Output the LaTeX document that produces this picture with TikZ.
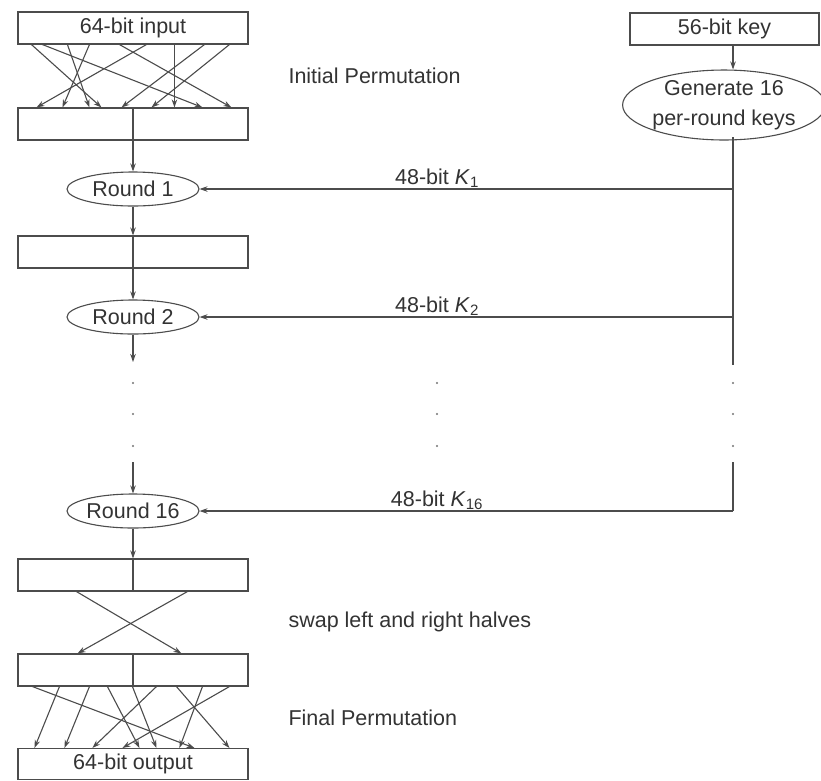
\documentclass[tikz,border=0pt]{standalone}
\usepackage{fontspec}
\setmainfont{Liberation Sans}
\usetikzlibrary{arrows.meta,shapes.geometric,calc}
\begin{document}
\begin{tikzpicture}[x=1pt,y=-1pt,
  ln/.style={draw=black!70, line width=1.1pt},
  arr/.style={ln, -{Stealth[length=8pt,width=5.5pt]}},
  lbl/.style={font=\fontsize{21.5}{30}\selectfont, text=black!80},
  bx/.style={ln, rectangle, minimum width=230pt, minimum height=32pt, inner sep=0pt, lbl},
  ell/.style={ln, ellipse, minimum width=132pt, minimum height=34pt, inner sep=0pt, lbl}
]
\fill[white] (0,0) rectangle (821,780);
\useasboundingbox (0,0) rectangle (821,780);

% left column boxes and rounds
\node[bx] (in) at (133,28) {64-bit input};
\node[bx] (ip) at (133,124) {};
\node[ell] (r1) at (133,189) {Round 1};
\node[bx] (b1) at (133,252) {};
\node[ell] (r2) at (133,317) {Round 2};
\node[ell] (r16) at (133,511) {Round 16};
\node[bx] (b16) at (133,575) {};
\node[bx] (sw) at (133,670) {};
\node[bx, minimum height=31pt] (out) at (133,764) {64-bit output};

% dividers
\foreach \n in {ip,b1,b16,sw} \draw[ln] (\n.north) -- (\n.south);

% key side
\node[bx, minimum width=189pt] (key) at (724.5,29) {56-bit key};
\node[ell, minimum width=192pt, minimum height=64pt, align=center] (gen) at (724,105) {Generate 16\\per-round keys};
\coordinate (kx) at (733,45);
\coordinate (g0) at (733,137);
\coordinate (j1) at (733,189);
\coordinate (j2) at (733,317);
\coordinate (jend) at (733,365);
\coordinate (jst) at (733,462);
\coordinate (j16) at (733,511);
\draw[arr] (kx) -- (kx |- gen.north);
\draw[ln] (g0) -- (jend);
\draw[ln] (jst) -- (j16);
\draw[arr] (j1) -- (r1.east);
\draw[arr] (j2) -- (r2.east);
\draw[arr] (j16) -- (r16.east);

\node[lbl] (k1) at (437,178) {48-bit \textit{K}\textsubscript{1}};
\node[lbl] (k2) at (437,306) {48-bit \textit{K}\textsubscript{2}};
\node[lbl] (k16) at (437,500) {48-bit \textit{K}\textsubscript{16}};

% main flow
\coordinate (d1) at (133,362);
\coordinate (d2) at (133,462);
\draw[arr] (ip.south) -- (r1.north);
\draw[arr] (r1.south) -- (b1.north);
\draw[arr] (b1.south) -- (r2.north);
\draw[arr] (r2.south) -- (d1);
\draw[arr] (d2) -- (r16.north);
\draw[arr] (r16.south) -- (b16.north);

% dots
\foreach \x in {133,437,733}
  \foreach \y in {383,414,446}
    \fill[black!55] (\x,\y) circle (1.2pt);

% initial permutation
\foreach \a/\b in {32/102, 43/203, 68/90, 90/63, 120/232, 147/37, 175/175, 205/122, 230/152}
  \draw[arr] ($(in.south west)+(\a-18,0)$) -- ($(ip.north west)+(\b-18,0)$);

% swap
\draw[arr] ($(b16.south west)+(59,0)$) -- ($(sw.north west)+(164,0)$);
\draw[arr] ($(b16.south west)+(170,0)$) -- ($(sw.north west)+(60,0)$);

% final permutation
\foreach \a/\b in {33/195, 60/35, 90/65, 108/140, 133/157, 157/93, 177/230, 203/180, 230/123}
  \draw[arr] ($(sw.south west)+(\a-18,0)$) -- ($(out.north west)+(\b-18,0)$);

% side labels
\node[lbl, anchor=west] (ipl) at (285,76) {Initial Permutation};
\node[lbl, anchor=west] (swl) at (285,622) {swap left and right halves};
\node[lbl, anchor=west] (fpl) at (285,718) {Final Permutation};
\end{tikzpicture}
\end{document}
